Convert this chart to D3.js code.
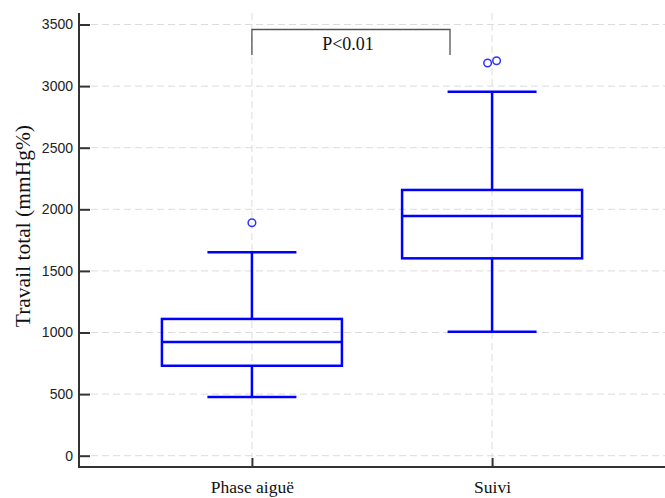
<!DOCTYPE html>
<html><head><meta charset="utf-8">
<script src="https://cdn.jsdelivr.net/npm/d3@7"></script>
<style>body{margin:0;background:#fff}</style>
</head><body>
<svg id="c" width="665" height="498"></svg>
<script>
const categories = ["Phase aiguë", "Suivi"];
const whiskerLow = [476, 1006];
const q1 = [730, 1602];
const median = [923, 1946];
const q3 = [1110, 2157];
const whiskerHigh = [1651, 2955];
const outliers = [[1891], [3187, 3206]];
const yTicks = [0, 500, 1000, 1500, 2000, 2500, 3000, 3500];
const yLabel = "Travail total (mmHg%)";
const pLabel = "P<0.01";

const svg = d3.select("#c");
const axisX = 79, axisBottom = 467, axisTop = 13, right = 665;
const y = d3.scaleLinear().domain([0, 3500]).range([455.7, 24.5]);
const x = d3.scalePoint().domain(categories).range([axisX, right]).padding(0.72);

// grid
const grid = svg.append("g").attr("stroke", "#dcdcdc").attr("stroke-dasharray", "7,4").attr("stroke-width", 1);
grid.selectAll(".h").data(yTicks).enter().append("line")
  .attr("x1", axisX + 12).attr("x2", right).attr("y1", d => y(d)).attr("y2", d => y(d));
grid.selectAll(".v").data(categories).enter().append("line")
  .attr("x1", d => x(d)).attr("x2", d => x(d)).attr("y1", axisTop).attr("y2", axisBottom - 9);

// axes
const yAxis = d3.axisLeft(y).tickValues(yTicks).tickFormat(d3.format("d")).tickSizeInner(-11).tickSizeOuter(0).tickPadding(6);
const gy = svg.append("g").attr("transform", `translate(${axisX},0)`).call(yAxis);
gy.select(".domain").remove();
gy.selectAll(".tick line").attr("stroke", "#333").attr("stroke-width", 2);
gy.selectAll("text").attr("font-family", "Liberation Sans, Arial, sans-serif").attr("font-size", 14).attr("fill", "#222");
svg.append("line").attr("x1", axisX).attr("x2", axisX).attr("y1", axisTop).attr("y2", axisBottom + 1)
  .attr("stroke", "#333").attr("stroke-width", 2);

const xAxis = d3.axisBottom(x).tickSizeInner(-9).tickSizeOuter(0).tickPadding(14);
const gx = svg.append("g").attr("transform", `translate(0,${axisBottom})`).call(xAxis);
gx.select(".domain").remove();
gx.selectAll(".tick line").attr("stroke", "#333").attr("stroke-width", 2);
gx.selectAll("text").attr("font-family", "Liberation Serif, Times New Roman, serif").attr("font-size", 17.5).attr("fill", "#111");
svg.append("line").attr("x1", axisX).attr("x2", right).attr("y1", axisBottom).attr("y2", axisBottom)
  .attr("stroke", "#333").attr("stroke-width", 2);

// y label
svg.append("text").attr("transform", `translate(30,${(y(0)+y(3500))/2 - 14}) rotate(-90)`)
  .attr("text-anchor", "middle").attr("font-family", "Liberation Serif, Times New Roman, serif")
  .attr("font-size", 21.5).attr("fill", "#111").text(yLabel);

// boxes
const boxW = 180, capW = 89;
const g = svg.append("g").attr("stroke", "#0000ff").attr("stroke-width", 2.5).attr("fill", "none");
categories.forEach((c, i) => {
  const cx = x(c);
  g.append("line").attr("x1", cx).attr("x2", cx).attr("y1", y(whiskerHigh[i])).attr("y2", y(q3[i]));
  g.append("line").attr("x1", cx).attr("x2", cx).attr("y1", y(q1[i])).attr("y2", y(whiskerLow[i]));
  g.append("line").attr("x1", cx - capW/2).attr("x2", cx + capW/2).attr("y1", y(whiskerHigh[i])).attr("y2", y(whiskerHigh[i]));
  g.append("line").attr("x1", cx - capW/2).attr("x2", cx + capW/2).attr("y1", y(whiskerLow[i])).attr("y2", y(whiskerLow[i]));
  g.append("rect").attr("x", cx - boxW/2).attr("width", boxW).attr("y", y(q3[i])).attr("height", y(q1[i]) - y(q3[i]));
  g.append("line").attr("x1", cx - boxW/2).attr("x2", cx + boxW/2).attr("y1", y(median[i])).attr("y2", y(median[i]));
});
// outliers
const outOffsets = [[0], [-4.5, 4.5]];
categories.forEach((c, i) => {
  outliers[i].forEach((v, j) => {
    svg.append("circle").attr("cx", x(c) + outOffsets[i][j]).attr("cy", y(v)).attr("r", 3.8)
      .attr("fill", "none").attr("stroke", "#3333ff").attr("stroke-width", 1.5);
  });
});

// significance bracket
const bx1 = x(categories[0]), bx2 = 450, by = 29.5, byEnd = 55;
svg.append("path").attr("d", `M${bx1},${byEnd}V${by}H${bx2}V${byEnd}`)
  .attr("fill", "none").attr("stroke", "#555").attr("stroke-width", 1.3);
svg.append("text").attr("x", 348).attr("y", 50).attr("text-anchor", "middle")
  .attr("font-family", "Liberation Serif, Times New Roman, serif").attr("font-size", 18).attr("fill", "#111").text(pLabel);
</script>
</body></html>
